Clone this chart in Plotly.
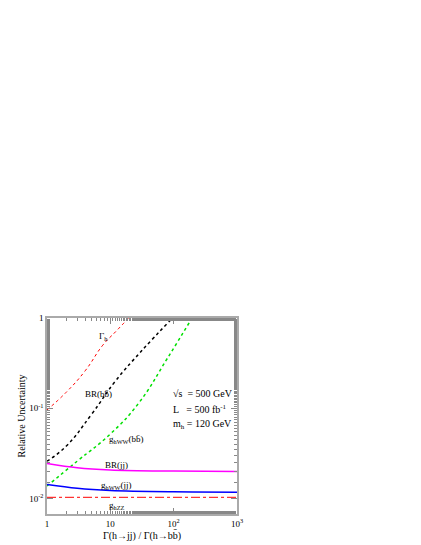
import numpy as np
import plotly.graph_objects as go

# curves (x = Γ(h→jj)/Γ(h→bb))
x_gam = [1, 2, 4, 7.6, 12, 19.5]
y_gam = [0.096, 0.15, 0.26, 0.5, 0.7, 1.0]
x_brbb = [1, 2, 5, 12, 30, 96]
y_brbb = [0.026, 0.038, 0.085, 0.2, 0.42, 1.0]
x_gwwbb = [1, 3, 10, 28, 80, 195]
y_gwwbb = [0.0138, 0.026, 0.052, 0.114, 0.36, 1.0]
x_flat = [1, 3, 10, 100, 1000]
y_brjj = [0.0245, 0.022, 0.0208, 0.0202, 0.0200]
y_gwwjj = [0.0143, 0.0130, 0.0123, 0.0119, 0.0118]
y_gzz = [0.01035, 0.01035, 0.01035, 0.01035, 0.01035]

FONT = "Liberation Serif"
fig = go.Figure()
fig.add_trace(go.Scatter(x=x_gam, y=y_gam, mode="lines", line=dict(color="red", width=1, dash="dot", shape="spline", smoothing=1.3)))
fig.add_trace(go.Scatter(x=x_brbb, y=y_brbb, mode="lines", line=dict(color="black", width=1.5, dash="dot", shape="spline", smoothing=1.3)))
fig.add_trace(go.Scatter(x=x_gwwbb, y=y_gwwbb, mode="lines", line=dict(color="#00e000", width=1.5, dash="dot", shape="spline", smoothing=1.3)))
fig.add_trace(go.Scatter(x=x_flat, y=y_brjj, mode="lines", line=dict(color="magenta", width=1.5, shape="spline")))
fig.add_trace(go.Scatter(x=x_flat, y=y_gwwjj, mode="lines", line=dict(color="blue", width=1.5, shape="spline")))
fig.add_trace(go.Scatter(x=x_flat, y=y_gzz, mode="lines", line=dict(color="red", width=1, dash="dashdot")))

axis_common = dict(type="log", showgrid=False, zeroline=False, ticks="inside", mirror="ticks",
                   showline=True, linecolor="#aaaaaa", linewidth=1.5, tickcolor="#888888",
                   ticklen=6, tickfont=dict(family=FONT, size=9, color="black"),
                   minor=dict(ticks="inside", ticklen=3, tickcolor="#888888", showgrid=False))
fig.update_xaxes(range=[0, 3], tickvals=[1, 10, 100, 1000],
                 ticktext=["1", "10", "10<sup>2</sup>", "10<sup>3</sup>"],
                 title=dict(text="Γ(h→jj) / Γ(h→bb̄)", font=dict(family=FONT, size=10, color="black"), standoff=4),
                 **axis_common)
fig.update_yaxes(range=[-2.17, 0], tickvals=[0.01, 0.1, 1],
                 ticktext=["10<sup>-2</sup>", "10<sup>-1</sup>", "1"],
                 title=dict(text="Relative Uncertainty", font=dict(family=FONT, size=10, color="black"), standoff=2),
                 **axis_common)

labels = [
    (0.89, -0.2, "Γ<sub>h</sub>"), (0.82, -0.84, "BR(bb̄)"), (1.25, -1.35, "g<sub>hWW</sub>(bb̄)"),
    (1.09, -1.63, "BR(jj)"), (1.09, -1.85, "g<sub>hWW</sub>(jj)"), (1.09, -2.08, "g<sub>hZZ</sub>"),
]
for lx, ly, t in labels:
    fig.add_annotation(x=lx, y=ly, text=t, showarrow=False, font=dict(family=FONT, size=9, color="black"))
for i, t in enumerate(["√s  = 500 GeV", "L   = 500 fb<sup>-1</sup>", "m<sub>h</sub> = 120 GeV"]):
    fig.add_annotation(x=1.95, y=-0.84 - 0.17 * i, text=t, showarrow=False, xanchor="left",
                       font=dict(family=FONT, size=10, color="black"))

fig.update_layout(width=421, height=545, margin=dict(l=39, r=192, t=310, b=39),
                  showlegend=False, plot_bgcolor="white", paper_bgcolor="white")
fig.write_html("out.html")
